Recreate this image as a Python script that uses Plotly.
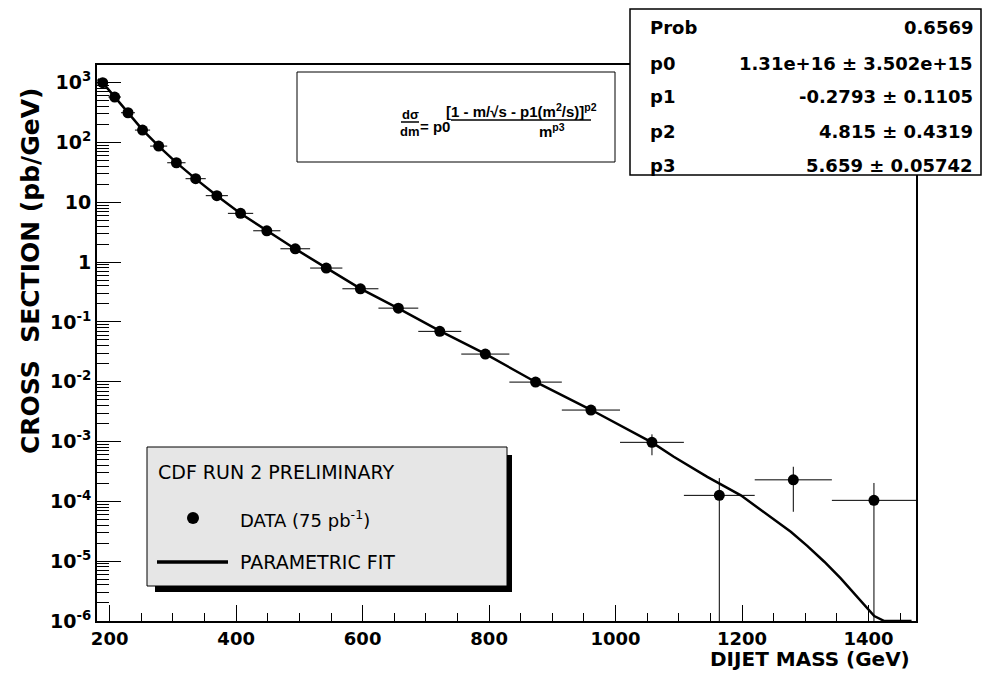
import plotly.graph_objects as go

# dijet mass bins (GeV) and measured cross section (pb/GeV)
bin_edges = [180, 198, 218, 240, 264, 291, 320, 352, 387, 427, 470, 517,
             568, 625, 688, 756, 832, 915, 1007, 1108, 1220, 1342, 1475]
xsec = [1000, 575, 314, 161, 87, 45.8, 24.8, 12.9, 6.53, 3.34, 1.67, 0.795,
        0.358, 0.170, 0.0695, 0.0290, 0.00986, 0.00336, 0.00097,
        1.26e-4, 2.29e-4, 1.04e-4]
err_up = [10, 7, 4.5, 2.6, 1.5, 0.9, 0.55, 0.3, 0.17, 0.1, 0.055, 0.03,
          0.015, 0.008, 0.0037, 0.0018, 0.0007, 0.0003, 0.00035,
          1.19e-4, 1.5e-4, 0.99e-4]
err_down = [10, 7, 4.5, 2.6, 1.5, 0.9, 0.55, 0.3, 0.17, 0.1, 0.055, 0.03,
            0.015, 0.008, 0.0037, 0.0018, 0.0007, 0.0003, 0.00038,
            1.259e-4, 1.62e-4, 1.039e-4]

# parametric fit
fit_mass = [181, 189, 208, 229, 252, 277.5, 305.5, 336, 369.5, 407, 448.5,
            493.5, 542.5, 596.5, 656.5, 722, 794, 873.5, 961, 1039, 1058,
            1092, 1145, 1198, 1250, 1277, 1303, 1330, 1356, 1382, 1409,
            1425, 1440, 1468]
fit_xsec = [1140, 1000, 578, 312, 162, 87, 46, 24.6, 12.9, 6.5, 3.33,
            1.66, 0.80, 0.36, 0.168, 0.071, 0.0292, 0.0099, 0.0034, 0.0012,
            0.00096, 5.56e-4, 2.57e-4, 1.26e-4, 4.99e-5, 3.1e-5, 1.8e-5,
            9.8e-6, 5.15e-6, 2.54e-6, 1.21e-6, 1.0e-6, 1.0e-6, 1.0e-6]

stat_names = ["Prob", "p0", "p1", "p2", "p3"]
stat_values = ["0.6569", "1.31e+16 \u00b1 3.502e+15", "-0.2793 \u00b1 0.1105",
               "4.815 \u00b1 0.4319", "5.659 \u00b1 0.05742"]

y_tickvals = [1e3, 1e2, 1e1, 1, 1e-1, 1e-2, 1e-3, 1e-4, 1e-5, 1e-6]
y_ticktext = ["10<sup>3</sup>", "10<sup>2</sup>", "10", "1", "10<sup>-1</sup>",
              "10<sup>-2</sup>", "10<sup>-3</sup>", "10<sup>-4</sup>",
              "10<sup>-5</sup>", "10<sup>-6</sup>"]

centers = [(a + b) / 2 for a, b in zip(bin_edges[:-1], bin_edges[1:])]
half_w = [(b - a) / 2 for a, b in zip(bin_edges[:-1], bin_edges[1:])]

# plot frame in pixels, used to place boxes and text
L, R, T, B = 97, 916, 65, 621
W, H = 983, 681


def px(x):
    return (x - L) / (R - L)


def py(y):
    return (B - y) / (B - T)


BOLD = "DejaVu Sans"

fig = go.Figure()

fig.add_trace(go.Scatter(
    x=fit_mass, y=fit_xsec, mode="lines",
    line=dict(color="black", width=2.5),
    showlegend=False, hoverinfo="skip"
))

fig.add_trace(go.Scatter(
    x=centers, y=xsec, mode="markers",
    marker=dict(color="black", size=11),
    error_x=dict(type="data", array=half_w, color="black", thickness=1, width=0),
    error_y=dict(type="data", array=err_up, arrayminus=err_down,
                 symmetric=False, color="black", thickness=1, width=0),
    showlegend=False
))

shapes = []
# formula box
shapes.append(dict(type="rect", xref="paper", yref="paper",
                   x0=px(297), x1=px(615), y0=py(162), y1=py(72),
                   line=dict(color="black", width=1), fillcolor="white",
                   layer="above"))
# fraction bars
shapes.append(dict(type="line", xref="paper", yref="paper",
                   x0=px(401), x1=px(419), y0=py(122), y1=py(122),
                   line=dict(color="black", width=1.5), layer="above"))
shapes.append(dict(type="line", xref="paper", yref="paper",
                   x0=px(451), x1=px(591), y0=py(120), y1=py(120),
                   line=dict(color="black", width=1.5), layer="above"))
# stats box
shapes.append(dict(type="rect", xref="paper", yref="paper",
                   x0=px(630), x1=px(981), y0=py(175), y1=py(9),
                   line=dict(color="black", width=1.5), fillcolor="white",
                   layer="above"))
# legend shadow and box
shapes.append(dict(type="rect", xref="paper", yref="paper",
                   x0=px(155), x1=px(512), y0=py(592), y1=py(455),
                   line=dict(width=0), fillcolor="black", layer="above"))
shapes.append(dict(type="rect", xref="paper", yref="paper",
                   x0=px(147), x1=px(507), y0=py(586), y1=py(447),
                   line=dict(color="black", width=1), fillcolor="#e6e6e6",
                   layer="above"))
shapes.append(dict(type="circle", xref="paper", yref="paper",
                   x0=px(187), x1=px(199), y0=py(524), y1=py(512),
                   line=dict(color="black", width=0), fillcolor="black",
                   layer="above"))
shapes.append(dict(type="line", xref="paper", yref="paper",
                   x0=px(157), x1=px(228), y0=py(562), y1=py(562),
                   line=dict(color="black", width=3.5), layer="above"))

ann = []


def text(x, y, s, size, xanchor="left", weight="bold", family=BOLD, angle=0):
    ann.append(dict(x=px(x), y=py(y), xref="paper", yref="paper", text=s,
                    showarrow=False, xanchor=xanchor, yanchor="middle",
                    textangle=angle,
                    font=dict(family=family, size=size, color="black",
                              weight=weight)))


# axis titles
text(912, 659, "DIJET MASS (GeV)", 20, xanchor="right")
text(30, 271, "CROSS\u00a0 SECTION (pb/GeV)", 25, xanchor="center", angle=-90)

# stats
rows_y = [28, 63, 97, 131, 165]
for name, val, yy in zip(stat_names, stat_values, rows_y):
    text(648, yy, name, 18)
    text(975, yy, val, 18, xanchor="right")

# formula
FORM = "Liberation Sans Narrow, Liberation Sans"
text(410, 114, "d\u03c3", 13, xanchor="center", family=FORM)
text(410, 131, "dm", 13, xanchor="center", family=FORM)
text(435, 126, "= p0", 15, xanchor="center", family=FORM)
text(521, 110, "[1 - m/\u221as - p1(m<sup>2</sup>/s)]<sup>p2</sup>", 15,
     xanchor="center", family=FORM)
text(552, 130, "m<sup>p3</sup>", 15, xanchor="center", family=FORM)

# legend texts
text(156, 472, "CDF RUN 2 PRELIMINARY", 19, weight="normal")
text(238, 519, "DATA (75 pb<sup>-1</sup>)", 18, weight="normal")
text(238, 562, "PARAMETRIC FIT", 19, weight="normal")

fig.update_layout(
    width=W, height=H,
    margin=dict(l=L, r=W - R, t=T, b=H - B),
    paper_bgcolor="white", plot_bgcolor="white",
    shapes=shapes, annotations=ann,
    xaxis=dict(range=[180, 1475], tick0=0, dtick=200,
               ticks="inside", ticklen=16, tickwidth=1, tickcolor="black",
               minor=dict(ticks="inside", ticklen=8, dtick=50, tickcolor="black"),
               showline=True, linewidth=2, linecolor="black", mirror=True,
               showgrid=False, zeroline=False,
               tickfont=dict(family=BOLD, size=18, color="black", weight="bold")),
    yaxis=dict(type="log", range=[-6, 3.295],
               tickmode="array", tickvals=y_tickvals, ticktext=y_ticktext,
               ticks="inside", ticklen=24, tickwidth=1, tickcolor="black",
               minor=dict(ticks="inside", ticklen=12, dtick="D1", tickcolor="black"),
               showline=True, linewidth=2, linecolor="black", mirror=True,
               showgrid=False, zeroline=False,
               tickfont=dict(family=BOLD, size=19, color="black", weight="bold")),
)

# the page's default body margin would shift the figure by 8px
fig.write_html("out.html", config={"displayModeBar": False},
               post_script="document.body.style.margin='0';")
